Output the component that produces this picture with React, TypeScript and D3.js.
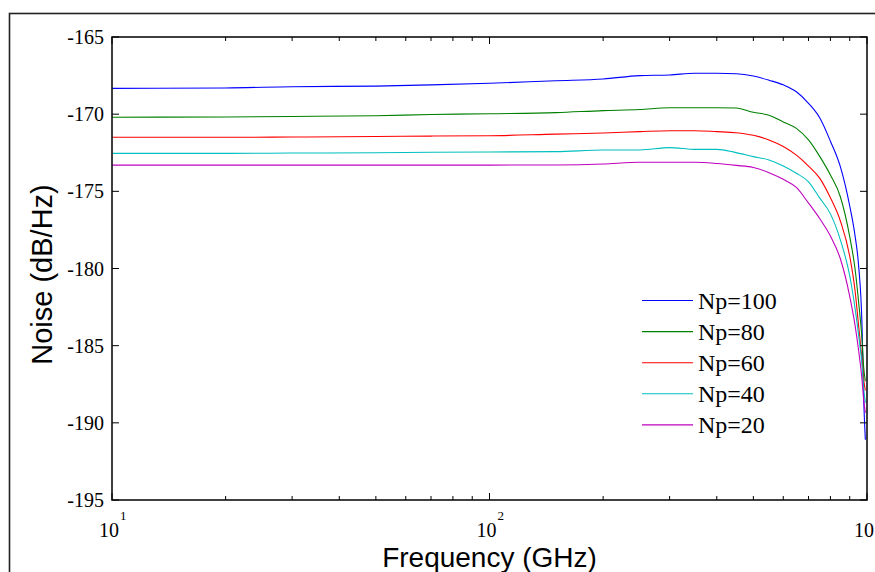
import React from "react";
import * as d3 from "d3";

const freqs = [10, 20, 30, 50, 70, 100, 150, 200, 250, 300, 350, 400, 450, 500, 550, 600, 650, 700, 750, 800, 850, 900, 930, 950, 970, 980, 990];

const np100 = [-168.33, -168.3, -168.22, -168.18, -168.1, -168.0, -167.83, -167.72, -167.5, -167.46, -167.35, -167.35, -167.38, -167.53, -167.8, -168.1, -168.55, -169.3, -170.25, -171.75, -173.4, -175.95, -177.9, -179.8, -183.7, -188.4, -191.1];
const np80 = [-170.2, -170.18, -170.15, -170.1, -170.02, -169.97, -169.9, -169.77, -169.7, -169.58, -169.58, -169.58, -169.6, -169.88, -170.07, -170.5, -170.92, -171.67, -172.75, -173.94, -175.35, -177.94, -180.05, -182.16, -184.6, -186.4, -187.3];
const np60 = [-171.5, -171.5, -171.48, -171.45, -171.42, -171.4, -171.29, -171.22, -171.13, -171.07, -171.07, -171.13, -171.2, -171.37, -171.67, -172.1, -172.65, -173.36, -174.16, -175.42, -176.92, -179.2, -181.46, -183.7, -185.9, -187.2, -187.9];
const np40 = [-172.54, -172.54, -172.52, -172.5, -172.47, -172.45, -172.43, -172.32, -172.32, -172.17, -172.28, -172.28, -172.49, -172.75, -172.97, -173.36, -173.83, -174.38, -175.44, -176.46, -178.14, -180.47, -182.6, -184.3, -186.25, -187.8, -188.7];
const np20 = [-173.3, -173.3, -173.3, -173.3, -173.3, -173.3, -173.29, -173.23, -173.12, -173.12, -173.12, -173.2, -173.32, -173.45, -173.79, -174.22, -174.75, -175.76, -176.78, -177.9, -179.37, -181.8, -183.7, -185.3, -187.2, -188.5, -189.35];

const seriesNames = ["Np=100", "Np=80", "Np=60", "Np=40", "Np=20"];
const seriesValues = [np100, np80, np60, np40, np20];
const seriesColors = ["#0000ff", "#008000", "#ff0000", "#00bfbf", "#bf00bf"];

const yTicks = [-195, -190, -185, -180, -175, -170, -165];
const xMajor = [10, 100, 1000];
const xMajorExp = ["1", "2", "3"];
const xMinor = [20, 30, 40, 50, 60, 70, 80, 90, 200, 300, 400, 500, 600, 700, 800, 900];

const W = 875;
const H = 572;
const L = 112;
const R = 867;
const T = 37;
const B = 500;

export default function App() {
  const x = d3.scaleLog().domain([10, 1000]).range([L, R]);
  const y = d3.scaleLinear().domain([-195, -165]).range([B, T]);
  const line = d3
    .line<[number, number]>()
    .x((d) => x(d[0]))
    .y((d) => y(d[1]))
    .curve(d3.curveMonotoneX);

  const serif = "'Liberation Serif', 'Times New Roman', serif";
  const sans = "'Liberation Sans', Arial, sans-serif";

  return (
    <svg
      width={W}
      height={H}
      style={{ position: "absolute", left: 0, top: 0, background: "#fff" }}
    >
      <rect x={0} y={0} width={W} height={H} fill="#fff" />
      <rect x={9.5} y={13.5} width={900} height={700} fill="none" stroke="#222" strokeWidth={1.6} />
      <defs>
        <clipPath id="plotclip">
          <rect x={L} y={T} width={R - L} height={B - T} />
        </clipPath>
      </defs>
      <g clipPath="url(#plotclip)">
        {seriesValues.map((vals, i) => (
          <path
            key={seriesNames[i]}
            d={line(freqs.map((f, j) => [f, vals[j]] as [number, number])) || ""}
            fill="none"
            stroke={seriesColors[i]}
            strokeWidth={1.1}
          />
        ))}
      </g>
      <rect x={L} y={T} width={R - L} height={B - T} fill="none" stroke="#000" strokeWidth={1.5} />
      {yTicks.map((t) => (
        <g key={t}>
          <line x1={L} x2={L + 7} y1={y(t)} y2={y(t)} stroke="#000" strokeWidth={1} />
          <line x1={R} x2={R - 7} y1={y(t)} y2={y(t)} stroke="#000" strokeWidth={1} />
          <text
            x={L - 8}
            y={y(t)}
            dy="0.35em"
            textAnchor="end"
            fontFamily={serif}
            fontSize={20}
            fill="#000"
          >
            {t}
          </text>
        </g>
      ))}
      {xMinor.map((t) => (
        <g key={t}>
          <line x1={x(t)} x2={x(t)} y1={B} y2={B - 4} stroke="#000" strokeWidth={1} />
          <line x1={x(t)} x2={x(t)} y1={T} y2={T + 4} stroke="#000" strokeWidth={1} />
        </g>
      ))}
      {xMajor.map((t, i) => (
        <g key={t}>
          <line x1={x(t)} x2={x(t)} y1={B} y2={B - 7} stroke="#000" strokeWidth={1} />
          <line x1={x(t)} x2={x(t)} y1={T} y2={T + 7} stroke="#000" strokeWidth={1} />
          <text x={x(t) - 13} y={537} fontFamily={serif} fontSize={20} fill="#000">
            10
            <tspan dx={1} dy={-17} fontSize={13}>
              {xMajorExp[i]}
            </tspan>
          </text>
        </g>
      ))}
      <text
        x={(L + R) / 2}
        y={567}
        textAnchor="middle"
        fontFamily={sans}
        fontSize={28}
        fill="#000"
      >
        Frequency (GHz)
      </text>
      <text
        transform={`translate(52, ${(T + B) / 2 + 6}) rotate(-90)`}
        textAnchor="middle"
        fontFamily={sans}
        fontSize={29}
        fill="#000"
      >
        Noise (dB/Hz)
      </text>
      {seriesNames.map((name, i) => {
        const ly = 300.5 + i * 31.1;
        return (
          <g key={name}>
            <line x1={642} x2={693} y1={ly} y2={ly} stroke={seriesColors[i]} strokeWidth={1.1} />
            <text x={698} y={ly + 8.5} fontFamily={serif} fontSize={24} fill="#000">
              {name}
            </text>
          </g>
        );
      })}
    </svg>
  );
}
